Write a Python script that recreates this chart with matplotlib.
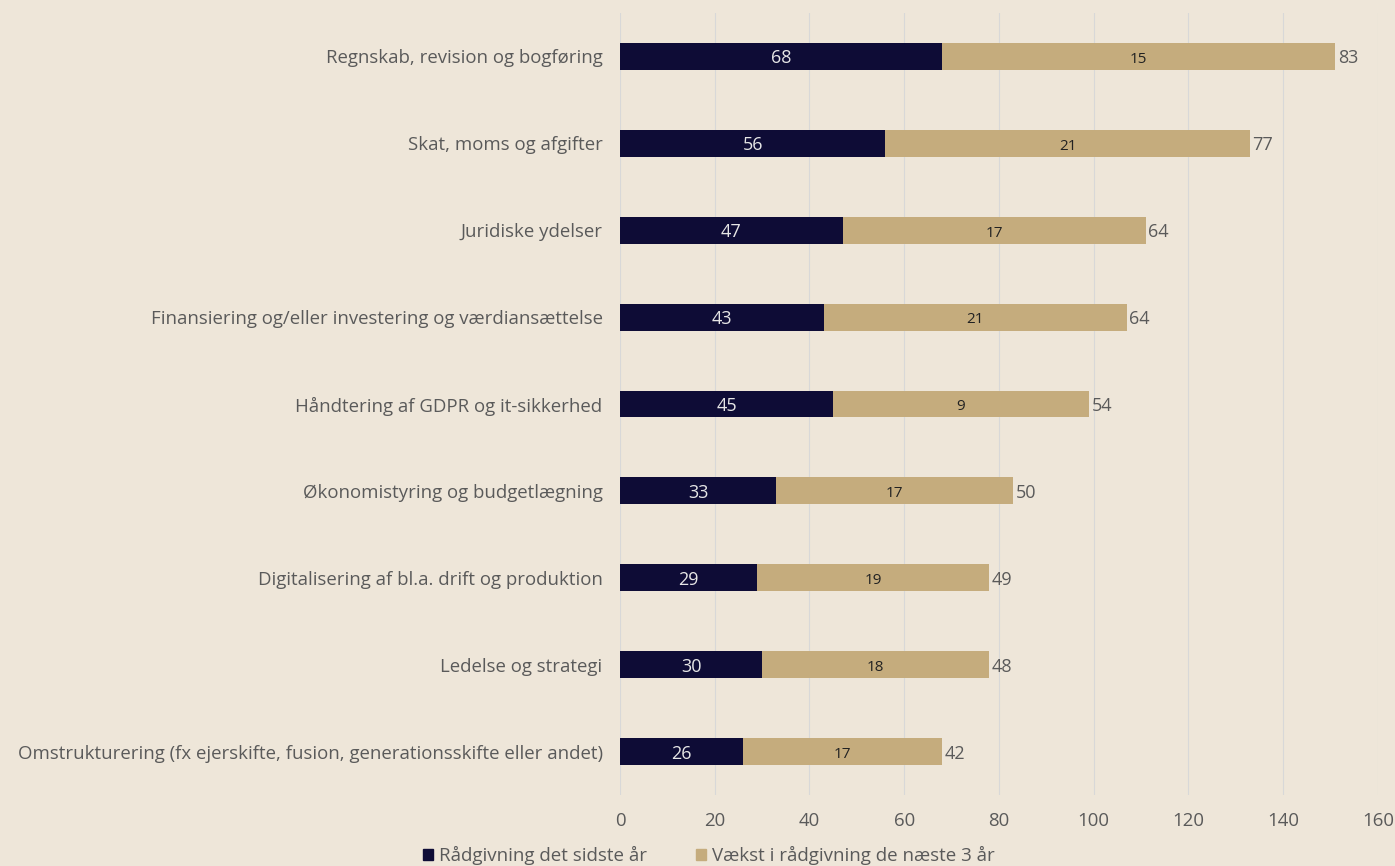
import matplotlib.pyplot as plt
from matplotlib.patches import Patch

# Data
categories = ['Regnskab, revision og bogføring', 'Skat, moms og afgifter', 'Juridiske ydelser',
              'Finansiering og/eller investering og værdiansættelse', 'Håndtering af GDPR og it-sikkerhed',
              'Økonomistyring og budgetlægning', 'Digitalisering af bl.a. drift og produktion',
              'Ledelse og strategi',
              'Omstrukturering (fx ejerskifte, fusion, generationsskifte eller andet)']
last_year = [68, 56, 47, 43, 45, 33, 29, 30, 26]
growth = [15, 21, 17, 21, 9, 17, 19, 18, 17]
totals = [83, 77, 64, 64, 54, 50, 49, 48, 42]

bg = '#EEE6D9'
dark = '#0E0C36'
tan = '#C5AC7D'
grey = '#5A5A5A'

plt.rcParams['font.family'] = ['Open Sans', 'DejaVu Sans']

fig = plt.figure(figsize=(13.95, 8.66), dpi=100, facecolor=bg)
ax = fig.add_axes([0.4444, 0.082, 0.5434, 0.903], facecolor=bg)

y = list(range(len(categories)))
h = 0.31
ax.barh(y, last_year, height=h, color=dark, zorder=3)
# the tan segment in the original spans the total, labelled with the growth
ax.barh(y, totals, left=last_year, height=h, color=tan, zorder=3)

for i in y:
    ax.text(last_year[i] / 2, i, str(last_year[i]), ha='center', va='center_baseline',
            color='#E6E6E6', fontsize=13, zorder=4)
    ax.text(last_year[i] + totals[i] / 2, i + 0.01, str(growth[i]), ha='center',
            va='center_baseline', color='#222222', fontsize=11, zorder=4)
    ax.text(last_year[i] + totals[i] + 0.5, i, str(totals[i]), ha='left',
            va='center_baseline', color=grey, fontsize=13, zorder=4)

ax.set_xlim(0, 160)
ax.set_ylim(8.5, -0.5)
ax.set_xticks(range(0, 161, 20))
ax.set_yticks(y)
ax.set_yticklabels(categories)
ax.tick_params(axis='both', length=0, colors=grey, labelsize=13.4)
ax.tick_params(axis='x', pad=12)
ax.tick_params(axis='y', pad=12.5)
ax.grid(axis='x', color='#D8D8D8', linewidth=0.8, zorder=0)
for s in ax.spines.values():
    s.set_visible(False)

handles = [Patch(color=dark, label='Rådgivning det sidste år'),
           Patch(color=tan, label='Vækst i rådgivning de næste 3 år')]
fig.legend(handles=handles, loc='center', bbox_to_anchor=(0.508, 0.012), ncol=2,
           frameon=False, fontsize=13.5, labelcolor=grey, handlelength=0.55,
           handleheight=0.55, columnspacing=2.6, handletextpad=0.3)

plt.savefig('out.png', facecolor=bg)
